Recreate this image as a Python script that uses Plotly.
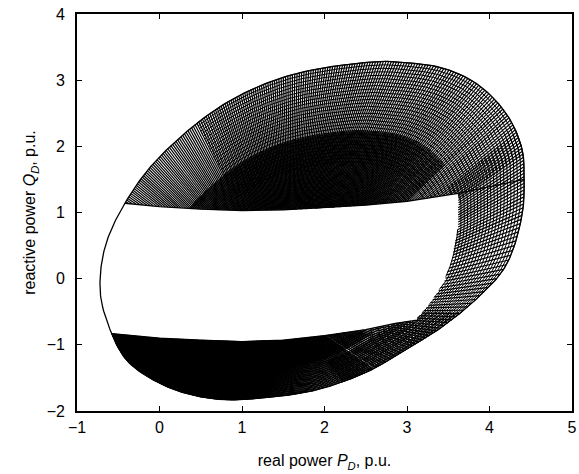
import numpy as np
import plotly.graph_objects as go

# ---------------- values (data units) ----------------
# outer envelope of the family of curves (closed, in order)
outer_x = [-0.72, -0.66, -0.42, 0.00, 0.80, 1.60, 2.64, 3.04, 3.44, 3.84, 4.20, 4.39, 4.42, 4.39, 4.19,
           3.83, 3.39, 2.95, 2.48, 1.84, 1.18, 0.80, 0.40, 0.00, -0.40, -0.64]
outer_y = [-0.17, 0.48, 1.14, 1.84, 2.65, 3.08, 3.28, 3.26, 3.18, 2.95, 2.50, 1.98, 1.50, 0.93, 0.18,
           -0.32, -0.76, -1.10, -1.43, -1.70, -1.81, -1.83, -1.76, -1.58, -1.23, -0.63]

# boundary of the empty (white) region: upper edge, right arc, lower edge
gap_top_x = [-0.42, 0.00, 0.50, 1.00, 1.50, 2.00, 2.50, 3.00, 3.62]
gap_top_y = [1.14, 1.09, 1.05, 1.03, 1.04, 1.07, 1.11, 1.17, 1.29]
gap_right_x = [3.62, 3.62, 3.54, 3.44, 3.28, 3.10]
gap_right_y = [1.29, 0.79, 0.28, -0.07, -0.37, -0.63]
gap_bot_x = [3.10, 2.84, 2.50, 2.00, 1.50, 1.00, 0.50, 0.00, -0.58]
gap_bot_y = [-0.63, -0.68, -0.77, -0.86, -0.93, -0.95, -0.93, -0.90, -0.83]
edge_end_x, edge_end_y = 4.42, 1.50   # upper edge continues to the envelope

# family of curves: pole, density of radial curves (per degree) at given angles,
# groups of nested curves: (level from, level to, count, angle from, angle to)
pole = (1.60, -0.50)
ray_knot_deg = [-40, -5, 20, 43, 60, 80, 100, 115, 139, 160, 186, 210, 240, 262, 285, 320]
ray_per_deg = [0.7, 0.7, 0.8, 1.8, 2.2, 2.3, 2.2, 1.8, 1.7, 1.7, 5.0, 5.0, 4.5, 2.2, 1.3, 0.9]
arc_groups = [
    (0.70, 1.00, 22, -60, 45),
    (0.60, 1.00, 30, 40, 112),
    (0.36, 0.72, 100, 50, 128),
    (0.20, 1.00, 110, 186, 258),
    (0.55, 1.00, 22, 258, 360),
    (0.20, 0.66, 45, 255, 340),
]

x_ticks = [-1, 0, 1, 2, 3, 4, 5]
y_ticks = [-2, -1, 0, 1, 2, 3, 4]

# ---------------- geometry helpers ----------------
px0, py0 = pole
P = np.column_stack([outer_x, outer_y])


def catmull_rom_closed(pts, per_seg=24, alpha=0.5):
    out = []
    m = len(pts)
    for i in range(m):
        p0, p1, p2, p3 = pts[(i-1) % m], pts[i], pts[(i+1) % m], pts[(i+2) % m]
        t0 = 0.0
        t1 = t0 + np.linalg.norm(p1-p0)**alpha
        t2 = t1 + np.linalg.norm(p2-p1)**alpha
        t3 = t2 + np.linalg.norm(p3-p2)**alpha
        t = np.linspace(t1, t2, per_seg, endpoint=False)[:, None]
        a1 = (t1-t)/(t1-t0)*p0 + (t-t0)/(t1-t0)*p1
        a2 = (t2-t)/(t2-t1)*p1 + (t-t1)/(t2-t1)*p2
        a3 = (t3-t)/(t3-t2)*p2 + (t-t2)/(t3-t2)*p3
        b1 = (t2-t)/(t2-t0)*a1 + (t-t0)/(t2-t0)*a2
        b2 = (t3-t)/(t3-t1)*a2 + (t-t1)/(t3-t1)*a3
        out.append((t2-t)/(t2-t1)*b1 + (t-t1)/(t2-t1)*b2)
    return np.vstack(out)

env = catmull_rom_closed(P)
segA = env
segB = np.roll(env, -1, axis=0)

# distance from the pole to the envelope, tabulated by angle (ray/segment intersection)
tab_th = np.linspace(-np.pi, np.pi, 2881)
dx, dy = np.cos(tab_th)[:, None], np.sin(tab_th)[:, None]
ex_, ey_ = (segB - segA)[:, 0][None, :], (segB - segA)[:, 1][None, :]
apx, apy = (segA[:, 0] - px0)[None, :], (segA[:, 1] - py0)[None, :]
den = dx*ey_ - dy*ex_
with np.errstate(divide='ignore', invalid='ignore'):
    tt = (apx*ey_ - apy*ex_) / den
    uu = (apx*dy - apy*dx) / den
valid = (uu >= 0) & (uu <= 1) & (tt > 0)
tab_r = np.where(valid, tt, 0).max(axis=1)


def outer_pt(th, s=1.0):
    th = np.asarray(th, dtype=float)
    thw = (th + np.pi) % (2*np.pi) - np.pi
    r = np.interp(thw, tab_th, tab_r) * s
    return px0 + r*np.cos(th), py0 + r*np.sin(th)

# white region polygon (left side follows the envelope, pushed slightly out)
th_bl = np.arctan2(gap_bot_y[-1]-py0, gap_bot_x[-1]-px0) % (2*np.pi)
th_tl = np.arctan2(gap_top_y[0]-py0, gap_top_x[0]-px0) % (2*np.pi)
lx, ly = outer_pt(np.linspace(th_bl, th_tl, 60), 1.05)
poly_x = np.concatenate([gap_top_x, gap_right_x[1:], gap_bot_x[1:], lx])
poly_y = np.concatenate([gap_top_y, gap_right_y[1:], gap_bot_y[1:], ly])


def inside(x, y):
    res = np.zeros(np.shape(x), dtype=bool)
    n = len(poly_x)
    j = n - 1
    for i in range(n):
        xi, yi, xj, yj = poly_x[i], poly_y[i], poly_x[j], poly_y[j]
        cond = ((yi > y) != (yj > y)) & (x < (xj - xi)*(y - yi)/(yj - yi + 1e-12) + xi)
        res ^= cond
        j = i
    return res

# angles of radial curves from the density profile
g = np.linspace(ray_knot_deg[0], ray_knot_deg[-1], 4000)
dens = np.interp(g, ray_knot_deg, ray_per_deg)
cdf = np.concatenate([[0], np.cumsum((dens[1:] + dens[:-1]) / 2 * np.diff(g))])
n_rays = int(cdf[-1])
ray_deg = np.interp(np.arange(n_rays) + 0.5, cdf, g)

rx, ry = [], []
s = np.linspace(1.0, 0.0, 400)
for deg in ray_deg:
    th = np.radians(deg)
    x, y = outer_pt(np.full_like(s, th), s)
    ins = inside(x, y)
    if ins[0]:
        continue
    idx = int(np.argmax(ins)) if ins.any() else len(s)
    rx += [float(x[0]), float(x[idx-1]), None]
    ry += [float(y[0]), float(y[idx-1]), None]

ax_, ay_ = [], []
for l0, l1, nl, d0, d1 in arc_groups:
    ths = np.radians(np.linspace(d0, d1, 300))
    for lev in np.linspace(l0, l1, nl):
        x, y = outer_pt(ths, lev)
        ins = inside(x, y)
        ax_ += [None if iv else float(v) for v, iv in zip(x, ins)] + [None]
        ay_ += [None if iv else float(v) for v, iv in zip(y, ins)] + [None]

ex, ey = outer_pt(np.linspace(-np.pi, np.pi, 720))

font_main = dict(family='Liberation Sans, Arial, sans-serif', size=16, color='black')
fig = go.Figure()
fig.add_trace(go.Scatter(x=rx, y=ry, mode='lines', line=dict(color='black', width=1.2),
                         hoverinfo='skip', showlegend=False))
fig.add_trace(go.Scatter(x=ax_, y=ay_, mode='lines', line=dict(color='black', width=1.0),
                         hoverinfo='skip', showlegend=False))
fig.add_trace(go.Scatter(x=ex, y=ey, mode='lines', line=dict(color='black', width=1.3),
                         hoverinfo='skip', showlegend=False))
fig.add_trace(go.Scatter(x=gap_top_x + [edge_end_x], y=gap_top_y + [edge_end_y], mode='lines',
                         line=dict(color='black', width=1.3), hoverinfo='skip', showlegend=False))
fig.add_trace(go.Scatter(x=gap_bot_x, y=gap_bot_y, mode='lines',
                         line=dict(color='black', width=1.3), hoverinfo='skip', showlegend=False))

axis_common = dict(ticks='inside', ticklen=5, tickwidth=1.2, tickcolor='black',
                   showline=True, linecolor='black', linewidth=1.6, mirror='ticks',
                   showgrid=False, zeroline=False, ticklabeloverflow='allow',
                   tickfont=font_main)
fig.update_xaxes(range=[-1, 5], tickvals=x_ticks, ticklabelstandoff=1,
                 title=dict(text='real power <i>P</i><sub><i>D</i></sub>, p.u.', standoff=20,
                            font=font_main),
                 **axis_common)
fig.update_yaxes(range=[-2, 4], tickvals=y_ticks, ticklabelstandoff=7,
                 title=dict(text='reactive power <i>Q</i><sub><i>D</i></sub>, p.u.', standoff=7,
                            font=font_main),
                 **axis_common)
fig.update_layout(width=579, height=474, margin=dict(l=77, r=2, t=14, b=63),
                  plot_bgcolor='white', paper_bgcolor='white', showlegend=False)
fig.write_html('out.html')
